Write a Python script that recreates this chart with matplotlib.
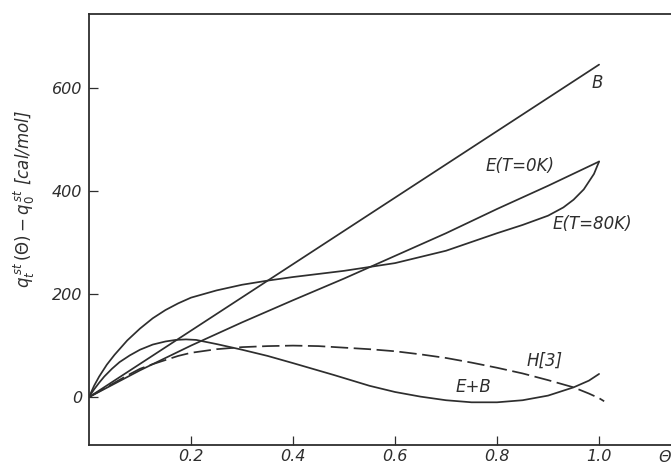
import matplotlib
matplotlib.use('Agg')
import matplotlib.pyplot as plt

# values
theta_B = [0.0, 1.0]
q_B = [0, 645]

theta_E0 = [0.0, 0.1, 0.2, 0.3, 0.4, 0.5, 0.6, 0.7, 0.8, 0.9, 1.0]
q_E0 = [0, 52, 100, 145, 188, 230, 274, 318, 365, 410, 457]

theta_E80 = [0.0, 0.01, 0.02, 0.035, 0.05, 0.075, 0.1, 0.125, 0.15, 0.175,
             0.2, 0.25, 0.3, 0.35, 0.4, 0.5, 0.6, 0.7, 0.8, 0.85,
             0.9, 0.93, 0.95, 0.97, 0.99, 1.0]
q_E80 = [0, 22, 40, 63, 82, 110, 133, 153, 169, 182,
         193, 207, 218, 226, 233, 245, 260, 284, 318, 334,
         352, 368, 383, 403, 433, 457]

theta_EB = [0.0, 0.01, 0.02, 0.03, 0.045, 0.06, 0.08, 0.1, 0.125, 0.15,
            0.17, 0.19, 0.21, 0.25, 0.3, 0.35, 0.4, 0.48, 0.55, 0.6,
            0.65, 0.7, 0.75, 0.8, 0.85, 0.9, 0.95, 0.98, 1.0]
q_EB = [0, 15, 28, 40, 55, 68, 81, 92, 102, 108,
        111, 112, 111, 103, 92, 80, 66, 43, 22, 10,
        1, -6, -10, -10, -6, 3, 19, 32, 45]

theta_H3 = [0.0, 0.025, 0.05, 0.075, 0.1, 0.125, 0.15, 0.175, 0.2, 0.25,
            0.3, 0.35, 0.4, 0.45, 0.5, 0.55, 0.6, 0.65, 0.7, 0.75,
            0.8, 0.85, 0.9, 0.95, 0.98, 1.0, 1.01]
q_H3 = [0, 14, 28, 42, 55, 64, 72, 80, 86, 93,
        97, 99, 100, 99, 96, 93, 89, 83, 76, 67,
        57, 46, 33, 19, 7, -2, -8]

x_ticks = [0.2, 0.4, 0.6, 0.8, 1.0]
x_ticklabels = ['0.2', '0.4', '0.6', '0.8', '1.0']
y_ticks = [0, 200, 400, 600]
y_ticklabels = ['0', '200', '400', '600']


def main():
    ink = '#2e2e2e'
    fig = plt.figure(figsize=(6.71, 4.70), dpi=100)
    ax = fig.add_axes([0.1326, 0.053, 0.8674, 0.917])

    lw = 1.25
    style = dict(color=ink, linewidth=lw, solid_joinstyle='round',
                 solid_capstyle='round')
    ax.plot(theta_B, q_B, **style)
    ax.plot(theta_E0, q_E0, **style)
    ax.plot(theta_E80, q_E80, **style)
    ax.plot(theta_EB, q_EB, **style)
    ax.plot(theta_H3, q_H3, color=ink, linewidth=lw, dashes=(10, 3.2))

    ax.set_xlim(0, 1.141)
    ax.set_ylim(-93, 743)

    for side in ['left', 'top', 'bottom']:
        ax.spines[side].set_color(ink)
        ax.spines[side].set_linewidth(1.3)
    ax.spines['right'].set_visible(False)

    ax.set_xticks(x_ticks)
    ax.set_xticklabels(x_ticklabels, fontstyle='italic')
    ax.set_yticks(y_ticks)
    ax.set_yticklabels(y_ticklabels, fontstyle='italic')
    ax.tick_params(direction='in', length=6.5, width=0.9, color=ink,
                   labelsize=11.5, labelcolor=ink, pad=5)
    ax.tick_params(axis='x', pad=3)

    ax.set_ylabel(r'$q^{\,st}_{t}\,(\Theta) - q^{\,st}_{0}$ [cal/mol]',
                  fontsize=12, fontstyle='italic', color=ink)
    ax.yaxis.set_label_coords(-0.09, 0.57)

    fs = 12
    ax.text(0.996, 610, 'B', fontsize=fs, fontstyle='italic', color=ink,
            ha='center', va='center')
    ax.text(0.845, 449, 'E(T=0K)', fontsize=fs, fontstyle='italic',
            color=ink, ha='center', va='center')
    ax.text(0.986, 335, 'E(T=80K)', fontsize=fs, fontstyle='italic',
            color=ink, ha='center', va='center')
    ax.text(0.894, 70, 'H[3]', fontsize=fs, fontstyle='italic', color=ink,
            ha='center', va='center')
    ax.text(0.753, 19, 'E+B', fontsize=fs, fontstyle='italic', color=ink,
            ha='center', va='center')
    ax.text(1.129, -118, 'Θ', fontsize=11.5, fontstyle='italic', color=ink,
            ha='center', va='center', clip_on=False)

    fig.savefig('out.png', dpi=100)


if __name__ == '__main__':
    main()
